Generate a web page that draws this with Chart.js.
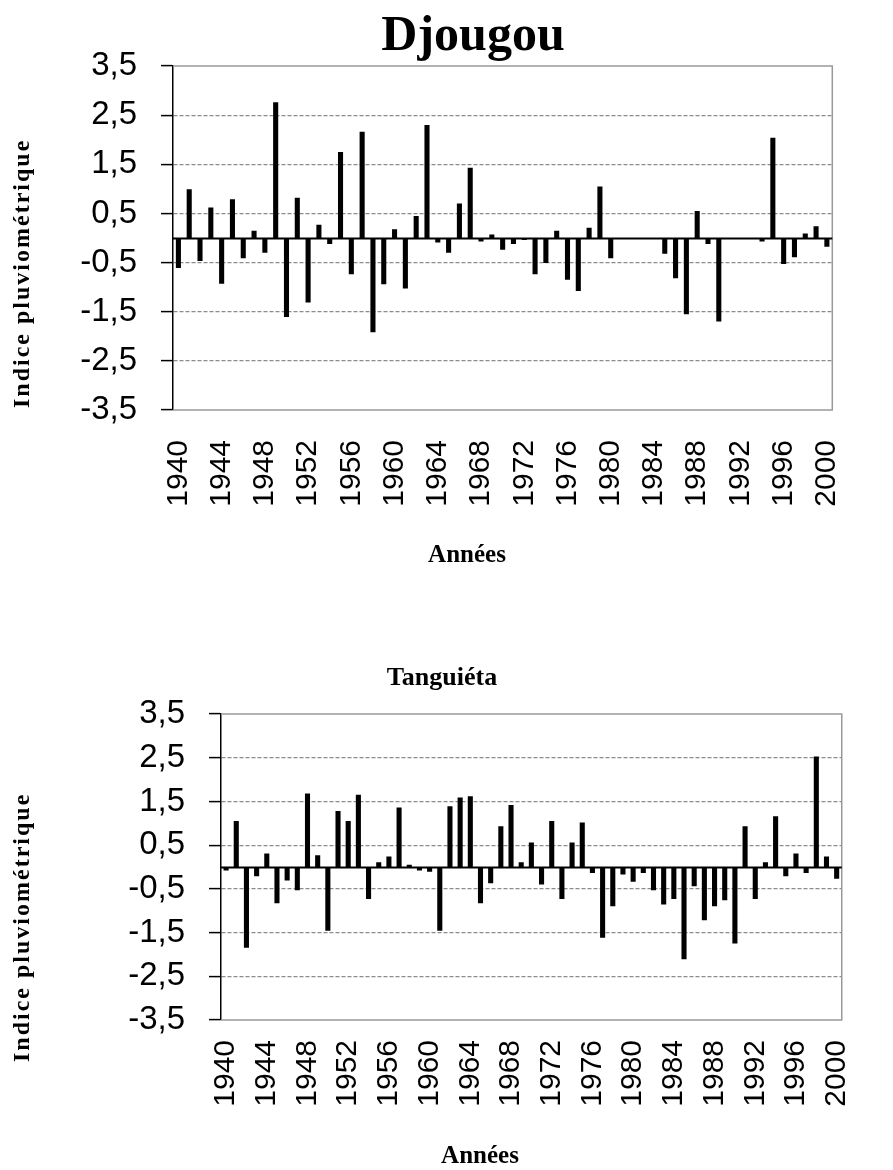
<!DOCTYPE html>
<html>
<head>
<meta charset="utf-8">
<script src="https://cdn.jsdelivr.net/npm/chart.js@4.4.1/dist/chart.umd.min.js"></script>
<style>
  html, body { margin: 0; padding: 0; background: #fff; }
  .wrap { position: absolute; left: 0; width: 893px; }
  #top { top: 0; height: 600px; }
  #bot { top: 600px; height: 570px; }
</style>
</head>
<body>
<div class="wrap" id="top"><canvas id="c1" width="893" height="600"></canvas></div>
<div class="wrap" id="bot"><canvas id="c2" width="893" height="570"></canvas></div>
<script>
// Years 1940..2000 (categories)
const years = [
  1940,1941,1942,1943,1944,1945,1946,1947,1948,1949,
  1950,1951,1952,1953,1954,1955,1956,1957,1958,1959,
  1960,1961,1962,1963,1964,1965,1966,1967,1968,1969,
  1970,1971,1972,1973,1974,1975,1976,1977,1978,1979,
  1980,1981,1982,1983,1984,1985,1986,1987,1988,1989,
  1990,1991,1992,1993,1994,1995,1996,1997,1998,1999,
  2000
];
// only every 4th year is labelled
const xTickYears = [1940,1944,1948,1952,1956,1960,1964,1968,1972,1976,1980,1984,1988,1992,1996,2000];

// Indice pluviométrique - Djougou (gaps = no data)
const djougou = [
  -0.61, 0.99,-0.47, 0.62,-0.93, 0.79,-0.41, 0.15,-0.30, 2.76,
  -1.61, 0.82,-1.31, 0.27,-0.12, 1.75,-0.74, 2.16,-1.92,-0.94,
   0.18,-1.03, 0.45, 2.30,-0.09,-0.30, 0.70, 1.43,-0.07, 0.07,
  -0.24,-0.12,-0.04,-0.74,-0.51, 0.15,-0.85,-1.08, 0.21, 1.05,
  -0.41, null, null, null, null,-0.32,-0.82,-1.55, 0.55,-0.12,
  -1.70, null, null, null,-0.07, 2.04,-0.53,-0.39, 0.09, 0.24,
  -0.18
];

// Indice pluviométrique - Tanguiéta
const tanguieta = [
  -0.08, 1.05,-1.85,-0.21, 0.31,-0.83,-0.31,-0.53, 1.68, 0.27,
  -1.46, 1.28, 1.05, 1.65,-0.73, 0.11, 0.24, 1.36, 0.05,-0.08,
  -0.11,-1.46, 1.39, 1.59, 1.62,-0.83,-0.37, 0.93, 1.42, 0.11,
   0.56,-0.40, 1.05,-0.73, 0.56, 1.02,-0.14,-1.62,-0.90,-0.17,
  -0.34,-0.14,-0.53,-0.86,-0.73,-2.11,-0.44,-1.22,-0.90,-0.76,
  -1.75, 0.93,-0.73, 0.11, 1.16,-0.21, 0.31,-0.14, 2.53, 0.24,
  -0.27
];

const yMin = -3.5, yMax = 3.5, yStep = 1;

// frame, zero line and the titles (Excel-like placement)
const decor = {
  id: 'decor',
  afterDatasetsDraw(chart, args, o) {
    const {ctx, chartArea: a, scales: {y}} = chart;
    ctx.save();
    ctx.strokeStyle = '#999'; ctx.lineWidth = 1.5;
    ctx.beginPath();
    ctx.moveTo(a.left, a.top); ctx.lineTo(a.right, a.top);
    ctx.lineTo(a.right, a.bottom); ctx.lineTo(a.left, a.bottom);
    ctx.stroke();
    const y0 = Math.round(y.getPixelForValue(0)) + 0.5;
    ctx.strokeStyle = '#000'; ctx.lineWidth = 2;
    ctx.beginPath(); ctx.moveTo(a.left, y0); ctx.lineTo(a.right, y0); ctx.stroke();

    ctx.fillStyle = '#000';
    ctx.textAlign = 'center';
    ctx.textBaseline = 'alphabetic';
    ctx.font = o.title.font;
    ctx.fillText(o.title.text, o.title.x, o.title.y);

    ctx.font = o.xTitle.font;
    ctx.textBaseline = 'middle';
    ctx.fillText(o.xTitle.text, o.xTitle.x, o.xTitle.y);

    ctx.save();
    ctx.translate(o.yTitle.x, o.yTitle.y);
    ctx.rotate(-Math.PI / 2);
    ctx.font = o.yTitle.font;
    ctx.letterSpacing = '2px';
    ctx.textAlign = 'left';
    ctx.fillText(o.yTitle.text, 0, 0);
    ctx.restore();
    ctx.restore();
  }
};

function makeChart(id, values, L) {
  return new Chart(document.getElementById(id), {
    type: 'bar',
    data: {
      labels: years,
      datasets: [{ data: values, backgroundColor: '#000', borderWidth: 0,
                   barPercentage: L.bar, categoryPercentage: 1 }]
    },
    options: {
      responsive: false,
      animation: false,
      layout: { padding: { top: L.top, right: L.right, left: 0, bottom: 0 } },
      plugins: {
        legend: { display: false },
        tooltip: { enabled: false },
        decor: L.text
      },
      scales: {
        x: {
          grid: { display: false, drawTicks: false },
          border: { display: false },
          afterFit: s => { s.height = L.xh; },
          ticks: {
            autoSkip: false, minRotation: 90, maxRotation: 90,
            padding: L.xpad, color: '#000',
            font: { family: 'Liberation Sans', size: 30 },
            callback: (v, i) => xTickYears.includes(years[i]) ? String(years[i]) : ''
          }
        },
        y: {
          min: yMin, max: yMax,
          afterFit: s => { s.width = L.yw; },
          grid: {
            color: c => (c.tick && Math.abs(c.tick.value) === 3.5) ? 'rgba(0,0,0,0)' : '#8c8c8c',
            lineWidth: 1.2,
            tickColor: '#000', tickLength: 12, tickWidth: 1.5
          },
          border: { color: '#000', width: 1.5, dash: [4, 2] },
          ticks: {
            stepSize: yStep, padding: 24, color: '#000',
            font: { family: 'Liberation Sans', size: 33 },
            callback: v => v.toFixed(1).replace('.', ',')
          }
        }
      }
    },
    plugins: [decor]
  });
}

makeChart('c1', djougou, {
  top: 66, right: 14, yw: 173, xh: 190, xpad: 30, bar: 0.47,
  text: {
    title: { text: 'Djougou', x: 473, y: 50, font: 'bold 50px "Liberation Serif"' },
    xTitle: { text: 'Années', x: 467, y: 556, font: 'bold 25px "Liberation Serif"' },
    yTitle: { text: 'Indice pluviométrique', x: 23, y: 408, font: 'bold 24px "Liberation Serif"' }
  }
});

makeChart('c2', tanguieta, {
  top: 114, right: 41, yw: 221, xh: 150, xpad: 20, bar: 0.5,
  text: {
    title: { text: 'Tanguiéta', x: 442, y: 85, font: 'bold 26px "Liberation Serif"' },
    xTitle: { text: 'Années', x: 480, y: 557, font: 'bold 25px "Liberation Serif"' },
    yTitle: { text: 'Indice pluviométrique', x: 23, y: 462, font: 'bold 24px "Liberation Serif"' }
  }
});
</script>
</body>
</html>
